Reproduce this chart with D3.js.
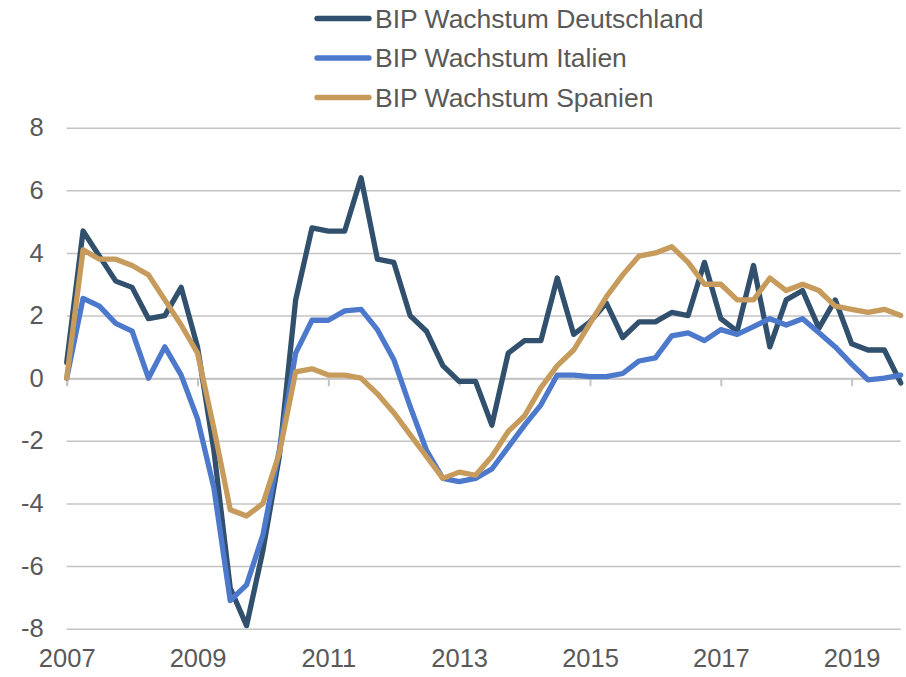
<!DOCTYPE html>
<html>
<head>
<meta charset="utf-8">
<script src="https://cdn.jsdelivr.net/npm/d3@7"></script>
<style>
  body { margin: 0; background: #fff; }
  text { font-family: Arial, "Liberation Sans", sans-serif; fill: #595959; }
</style>
</head>
<body>
<div id="chart"></div>
<script>
// quarters 2007 Q1 .. 2019 Q4
const years = d3.range(2007, 2020);
const quarters = years.flatMap(y => [1, 2, 3, 4].map(q => y + " Q" + q));

const deutschland = [0.5, 4.7, 3.9, 3.1, 2.9, 1.9, 2.0, 2.9, 1.0, -2.3, -6.7, -7.9,
  -5.5, -2.5, 2.5, 4.8, 4.7, 4.7, 6.4, 3.8, 3.7, 2.0, 1.5, 0.4,
  -0.1, -0.1, -1.5, 0.8, 1.2, 1.2, 3.2, 1.4, 1.8, 2.4, 1.3, 1.8,
  1.8, 2.1, 2.0, 3.7, 1.9, 1.5, 3.6, 1.0, 2.5, 2.8, 1.6, 2.5,
  1.1, 0.9, 0.9, -0.15];
const italien = [0.0, 2.55, 2.3, 1.75, 1.5, 0.0, 1.0, 0.1, -1.3, -3.5, -7.1, -6.6,
  -5.0, -2.3, 0.8, 1.85, 1.85, 2.15, 2.2, 1.55, 0.6, -0.9, -2.3, -3.2,
  -3.3, -3.2, -2.9, -2.2, -1.5, -0.85, 0.1, 0.1, 0.05, 0.05, 0.15, 0.55,
  0.65, 1.35, 1.45, 1.2, 1.55, 1.4, 1.65, 1.9, 1.7, 1.9, 1.45, 1.0,
  0.45, -0.05, 0.0, 0.1];
const spanien = [0.0, 4.1, 3.8, 3.8, 3.6, 3.3, 2.5, 1.7, 0.8, -1.6, -4.2, -4.4,
  -4.0, -2.4, 0.2, 0.3, 0.1, 0.1, 0.0, -0.5, -1.1, -1.8, -2.5, -3.2,
  -3.0, -3.1, -2.5, -1.7, -1.2, -0.3, 0.4, 0.9, 1.75, 2.6, 3.3, 3.9,
  4.0, 4.2, 3.7, 3.0, 3.0, 2.5, 2.5, 3.2, 2.8, 3.0, 2.8, 2.3,
  2.2, 2.1, 2.2, 2.0];

const seriesNames = ["BIP Wachstum Deutschland", "BIP Wachstum Italien", "BIP Wachstum Spanien"];
const seriesColors = ["#31506e", "#4d79cc", "#c69b5c"];
const yTicks = [-8, -6, -4, -2, 0, 2, 4, 6, 8];

const W = 906, H = 677;
const plot = {left: 66.7, right: 900.7, top: 127.7, bottom: 628.7};

const svg = d3.select("#chart").append("svg")
  .attr("width", W)
  .attr("height", H);

const x = d3.scalePoint()
  .domain(quarters)
  .range([plot.left, plot.right]);

const y = d3.scaleLinear()
  .domain([-8, 8])
  .range([plot.bottom, plot.top]);

// gridlines + y labels (plain hyphen for negatives, like the original)
const yAxis = svg.append("g")
  .attr("transform", `translate(${plot.left}, 0)`)
  .call(d3.axisLeft(y).tickValues(yTicks).tickSize(-(plot.right - plot.left))
    .tickPadding(23).tickFormat(d => String(d)));
yAxis.select(".domain").remove();
yAxis.selectAll(".tick line")
  .attr("stroke", "#c4c4c4")
  .attr("stroke-width", 1.5);
yAxis.selectAll(".tick text")
  .style("font-size", "25.5px")
  .attr("fill", "#595959");

// tick marks on the zero line
const yearTicks = quarters.filter((q, i) => i % 8 == 0);
const zeroAxis = svg.append("g")
  .attr("transform", `translate(0, ${y(0)})`)
  .call(d3.axisBottom(x).tickValues(yearTicks).tickSize(8).tickFormat(""));
zeroAxis.select(".domain")
  .attr("stroke", "#c4c4c4")
  .attr("stroke-width", 2);
zeroAxis.selectAll(".tick line")
  .attr("stroke", "#c4c4c4")
  .attr("stroke-width", 2);

// year labels along the bottom
const xLabels = svg.append("g")
  .attr("transform", `translate(0, ${plot.bottom})`)
  .call(d3.axisBottom(x).tickValues(yearTicks).tickSize(0).tickPadding(20)
    .tickFormat(d => d.slice(0, 4)));
xLabels.select(".domain").remove();
xLabels.selectAll(".tick text")
  .style("font-size", "25.5px")
  .attr("fill", "#595959");

// lines
const line = d3.line()
  .x((d, i) => x(quarters[i]))
  .y(d => y(d));

[deutschland, italien, spanien].forEach((s, k) => {
  svg.append("path")
    .datum(s)
    .attr("fill", "none")
    .attr("stroke", seriesColors[k])
    .attr("stroke-width", 5.3)
    .attr("stroke-linejoin", "round")
    .attr("stroke-linecap", "round")
    .attr("d", line);
});

// legend
const legend = svg.append("g");
seriesNames.forEach((name, k) => {
  const ly = 18.5 + k * 39.5;
  legend.append("line")
    .attr("x1", 317).attr("x2", 369)
    .attr("y1", ly).attr("y2", ly)
    .attr("stroke", seriesColors[k])
    .attr("stroke-width", 5.3)
    .attr("stroke-linecap", "round");
  legend.append("text")
    .attr("x", 375)
    .attr("y", ly)
    .attr("dy", "0.35em")
    .style("font-size", "26.5px")
    .text(name);
});
</script>
</body>
</html>
